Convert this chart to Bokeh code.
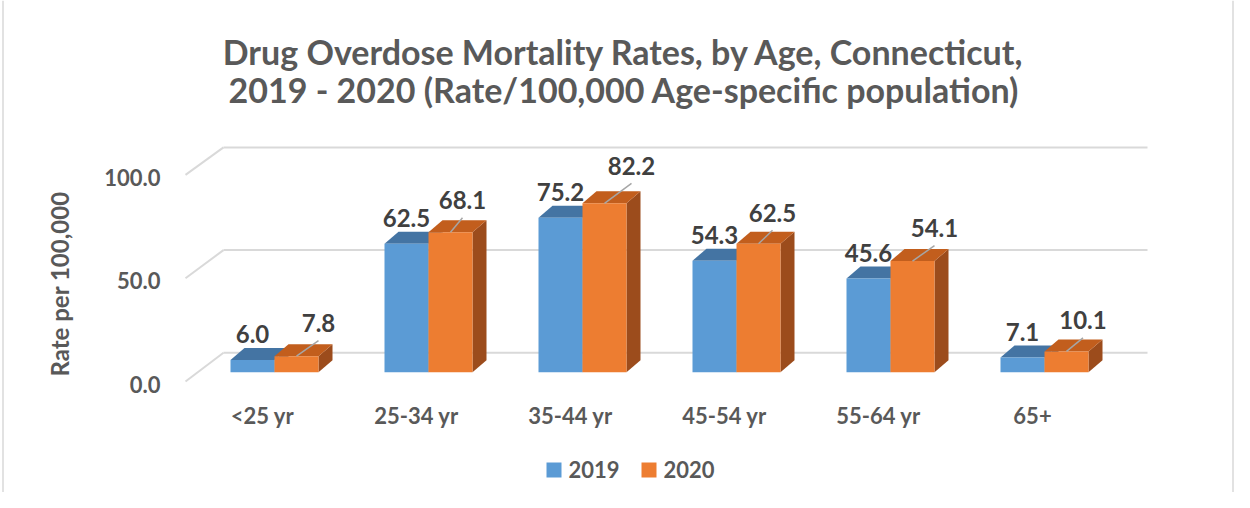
import numpy as np
from bokeh.plotting import figure
from bokeh.models import Range1d
from bokeh.core.properties import value
from bokeh.embed import file_html
from bokeh.resources import INLINE

# ---------------- data ----------------
categories = ["<25 yr", "25-34 yr", "35-44 yr", "45-54 yr", "55-64 yr", "65+"]
rates_2019 = [6.0, 62.5, 75.2, 54.3, 45.6, 7.1]
rates_2020 = [7.8, 68.1, 82.2, 62.5, 54.1, 10.1]
series_names = ["2019", "2020"]
y_ticks = [0, 50, 100]
y_tick_labels = ["0.0", "50.0", "100.0"]
title_lines = ["Drug Overdose Mortality Rates, by Age, Connecticut,",
               "2019 - 2020 (Rate/100,000 Age-specific population)"]
y_axis_title = "Rate per 100,000"

# ---------------- layout (pixels) ----------------
# hand-moved 2020 labels: (px right, px up) from the bar's front-top centre
nudge_2020 = [(22, 33), (12, 32), (27, 37.5), (14, 31), (22, 33), (16.5, 31)]

W, H = 1234, 492
X0, Y0 = 274.0, 371.7      # px of category 0 centre / value 0 (bar front)
SX, SY = 154.0, 2.054      # px per category step, px per rate unit
BASE_FIX = 0.37            # baseline correction (fraction of font size)

def ux(px): return px / SX
def uy(px): return px / SY
def ix(px): return (px - X0) / SX
def iy(py): return (Y0 - py) / SY
def lift(size): return uy(BASE_FIX * size)

FONT = value("Lato")
GREY_TXT = "#595959"
DARK_TXT = "#404040"
GRID = "#D9D9D9"
C_FRONT = ["#5B9BD5", "#ED7D31"]
C_TOP = ["#4474A3", "#C25E1D"]
C_SIDE = ["#3E6A94", "#9C4C1C"]

p = figure(width=W, height=H, output_backend="svg", toolbar_location=None,
           x_range=Range1d(ix(0), ix(W)),
           y_range=Range1d(iy(H), iy(0)),
           x_axis_type=None, y_axis_type=None, min_border=0,
           outline_line_color=None, background_fill_color="white")
p.grid.visible = False

# ---------------- walls / gridlines ----------------
back_left, back_right, wall_front_x = ix(223), ix(1147), ix(185)
back_dy = uy(19.4)
def wall_front_y(v): return v * 1.006 - uy(9.3)

ticks = np.array(y_ticks, dtype=float)
p.segment(x0=[back_left] * len(ticks), y0=ticks + back_dy,
          x1=[back_right] * len(ticks), y1=ticks + back_dy,
          line_color=GRID, line_width=2)
p.segment(x0=[wall_front_x] * len(ticks), y0=wall_front_y(ticks),
          x1=[back_left] * len(ticks), y1=ticks + back_dy,
          line_color=GRID, line_width=2)

# ---------------- bars ----------------
idx = np.arange(len(categories), dtype=float)
bw, ddx, ddy = ux(44), ux(14), uy(12)

for s, vals in enumerate([rates_2019, rates_2020]):
    v = np.array(vals, dtype=float)
    left = idx - bw if s == 0 else idx
    right = left + bw
    side_xs = [[r, r + ddx, r + ddx, r] for r in right]
    side_ys = [[0, ddy, h + ddy, h] for h in v]
    p.patches(side_xs, side_ys, fill_color=C_SIDE[s], line_color=None)
    top_xs = [[l, r, r + ddx, l + ddx] for l, r in zip(left, right)]
    top_ys = [[h, h, h + ddy, h + ddy] for h in v]
    p.patches(top_xs, top_ys, fill_color=C_TOP[s], line_color=None)
    p.quad(left=left, right=right, bottom=0, top=v, fill_color=C_FRONT[s], line_color=None)

# ---------------- data labels ----------------
v19 = np.array(rates_2019, dtype=float)
v20 = np.array(rates_2020, dtype=float)
p.text(x=idx - bw / 2, y=v19 + ddy + uy(5) + lift(24), text=[f"{x:.1f}" for x in rates_2019],
       text_font=FONT, text_font_style="bold", text_font_size="24px",
       text_color=DARK_TXT, text_align="center", text_baseline="alphabetic")

lab_x = idx + bw / 2 + np.array([ux(n[0]) for n in nudge_2020])
lab_yc = v20 + np.array([uy(n[1]) for n in nudge_2020])
p.segment(x0=idx + bw / 2, y0=v20, x1=lab_x, y1=lab_yc - uy(17.5),
          line_color="#A6A6A6", line_width=1.5)
p.text(x=lab_x, y=lab_yc - uy(8.8) + lift(24), text=[f"{x:.1f}" for x in rates_2020],
       text_font=FONT, text_font_style="bold", text_font_size="24px",
       text_color=DARK_TXT, text_align="center", text_baseline="alphabetic")

# ---------------- axis labels ----------------
p.text(x=idx - ux(12), y=[-uy(51.3) + lift(22)] * len(idx), text=categories,
       text_font=FONT, text_font_style="bold", text_font_size="22px",
       text_color=GREY_TXT, text_align="center", text_baseline="alphabetic")
p.text(x=[ix(160)] * len(ticks), y=wall_front_y(ticks) - uy(10.7) + lift(22), text=y_tick_labels,
       text_font=FONT, text_font_style="bold", text_font_size="22px",
       text_color=GREY_TXT, text_align="right", text_baseline="alphabetic")
p.text(x=[ix(68.3 - BASE_FIX * 24)], y=[iy(283.5)], text=[y_axis_title], angle=np.pi / 2,
       text_font=FONT, text_font_style="bold", text_font_size="24px",
       text_color=GREY_TXT, text_align="center", text_baseline="alphabetic")

# ---------------- title ----------------
p.text(x=[ix(623.5)] * 2, y=[iy(63.3) + lift(34), iy(101.7) + lift(34)], text=title_lines,
       text_font=FONT, text_font_style="bold", text_font_size="34px",
       text_color=GREY_TXT, text_align="center", text_baseline="alphabetic")

# ---------------- legend ----------------
p.scatter(x=[ix(553.5), ix(648.5)], y=[iy(469.5)] * 2, marker="square", size=15,
          fill_color=C_FRONT, line_color=None)
p.text(x=[ix(568), ix(663)], y=[iy(476.7) + lift(22)] * 2, text=series_names,
       text_font=FONT, text_font_style="bold", text_font_size="22px",
       text_color=GREY_TXT, text_align="left", text_baseline="alphabetic")

# ---------------- chart border ----------------
p.segment(x0=[ix(2.5), ix(1232.5)], y0=[iy(0), iy(0)],
          x1=[ix(2.5), ix(1232.5)], y1=[iy(H), iy(H)],
          line_color=GRID, line_width=1.5)

open("out.html", "w").write(file_html(p, INLINE))
